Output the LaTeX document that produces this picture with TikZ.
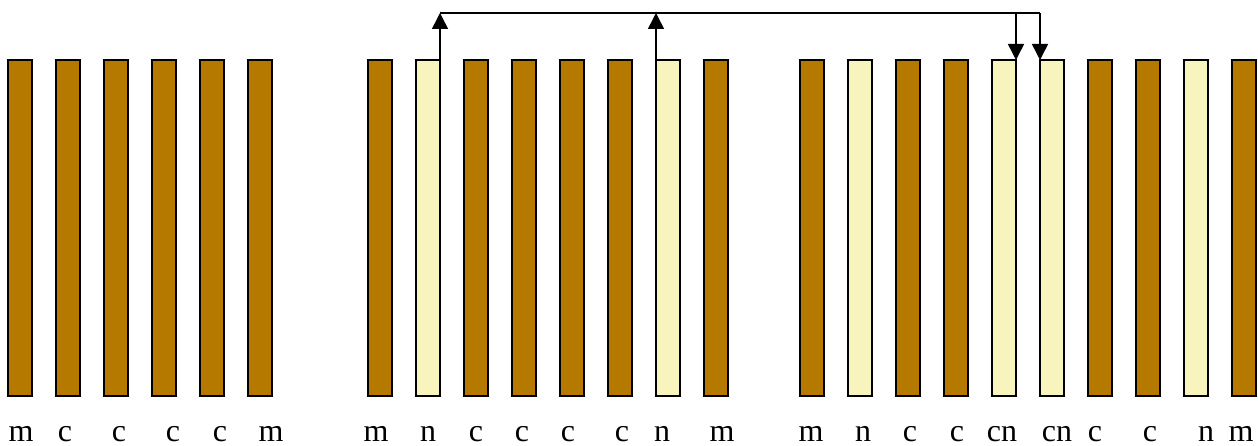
\documentclass[tikz,border=0pt]{standalone}
\usepackage{fontspec}
\setmainfont{Liberation Serif}
\usetikzlibrary{arrows.meta}
\usetikzlibrary{calc}

\definecolor{barbrown}{RGB}{181,121,0}
\definecolor{barpale}{RGB}{247,244,190}

\tikzset{
 bar/.style={draw=black, inner sep=0, outer sep=0, minimum width=24pt, minimum height=336pt, anchor=south west},
 lbl/.style={anchor=base, inner sep=0, text depth=0pt, font=\fontsize{32}{38}\selectfont},
 arr/.style={black, line width=1.5pt, ->, >={Triangle[length=16pt,width=16pt]}}
}

\begin{document}
\begin{tikzpicture}[x=1pt,y=1pt]
\useasboundingbox (0,0) rectangle (1258,446);
\coordinate (top) at (0,433);
% first row of bars, all brown
\foreach \i in {1,...,6} {
 \node[bar, line width=2pt, fill=barbrown] (a\i) at ({8+48*(\i-1)},50) {};
}
% second row
\foreach \c [count=\i] in {barbrown,barpale,barbrown,barbrown,barbrown,barbrown,barpale,barbrown} {
 \node[bar, line width=1.5pt, fill=\c] (b\i) at ({368+48*(\i-1)},50) {};
}
% third row
\foreach \c [count=\i] in {barbrown,barpale,barbrown,barbrown,barpale,barpale,barbrown,barbrown,barpale,barbrown} {
 \node[bar, line width=1.5pt, fill=\c] (c\i) at ({800+48*(\i-1)},50) {};
}
% labels
\foreach \lx/\lt [count=\i] in {21/m,65/c,119/c,173/c,220/c,271/m,
 376/m,428/n,476/c,522/c,568/c,622/c,662/n,722/m,
 811/m,863/n,910/c,957/c,1002/cn,1057/cn,1095/c,1150/c,1206/n,1241/m} {
 \node[lbl] (l\i) at (\lx,4) {\lt};
}
% connectors
\draw[black, line width=1.5pt] (b2.north east |- top) -- (c6.north west |- top);
\draw[arr] (b2.north east) -- (b2.north east |- top);
\draw[arr] (b7.north west) -- (b7.north west |- top);
\draw[arr] (c5.north east |- top) -- (c5.north east);
\draw[arr] (c6.north west |- top) -- (c6.north west);
\end{tikzpicture}
\end{document}
